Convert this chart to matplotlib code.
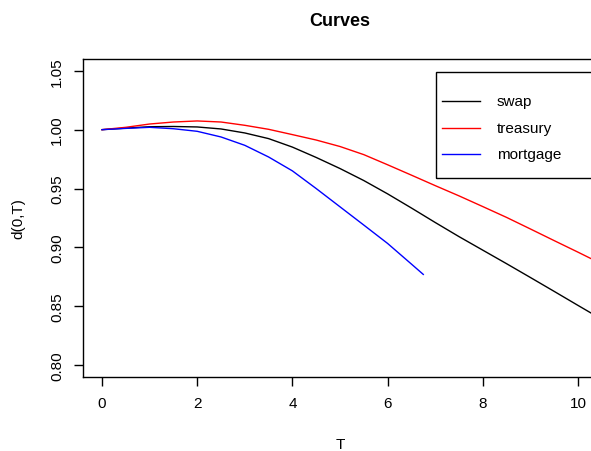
import matplotlib
matplotlib.use("Agg")
import matplotlib.pyplot as plt
from matplotlib.lines import Line2D
from matplotlib.patches import Rectangle

plt.rcParams['font.family'] = ['Liberation Sans', 'DejaVu Sans']

# maturities (years) and discount factors
T = [0.0, 0.5, 1.0, 1.5, 2.0, 2.5, 3.0, 3.5, 4.0, 4.5, 5.0,
     5.5, 6.0, 6.5, 7.0, 7.5, 8.0, 8.5, 9.0, 9.5, 10.0, 10.5]
swap = [1.0000, 1.0013, 1.0025, 1.0027, 1.0023, 1.0006, 0.9972, 0.9924,
        0.9852, 0.9764, 0.9670, 0.9568, 0.9455, 0.9335, 0.9212, 0.9092,
        0.8977, 0.8862, 0.8745, 0.8627, 0.8508, 0.8390]
treasury = [1.0000, 1.0020, 1.0048, 1.0065, 1.0074, 1.0065, 1.0037, 1.0003,
            0.9958, 0.9912, 0.9857, 0.9788, 0.9702, 0.9614, 0.9525, 0.9438,
            0.9347, 0.9255, 0.9157, 0.9058, 0.8960, 0.8860]
T_mort = [0.0, 0.5, 1.0, 1.5, 2.0, 2.5, 3.0, 3.5, 4.0, 4.5, 5.0,
          5.5, 6.0, 6.5, 6.75]
mortgage = [1.0000, 1.0011, 1.0020, 1.0008, 0.9986, 0.9938, 0.9867, 0.9768,
            0.9650, 0.9500, 0.9345, 0.9190, 0.9034, 0.8859, 0.8771]

names = ['swap', 'treasury', 'mortgage']
colors = ['black', 'red', 'blue']

W, H = 591, 452
fig = plt.figure(figsize=(W / 100, H / 100), dpi=100)
# plot box in pixels: left 83, right 597 (runs off the image), top 60, bottom 378
ax = fig.add_axes([83 / W, (H - 378) / H, (597 - 83) / W, (378 - 60) / H])

ax.plot(T, swap, color=colors[0], lw=1)
ax.plot(T, treasury, color=colors[1], lw=1)
ax.plot(T_mort, mortgage, color=colors[2], lw=1)

ax.set_xlim(-0.4, 10.4)
ax.set_ylim(0.79, 1.06)
ax.set_xticks([0, 2, 4, 6, 8, 10])
ax.set_yticks([0.80, 0.85, 0.90, 0.95, 1.00, 1.05])
ax.set_yticklabels(['%.2f' % v for v in ax.get_yticks()], rotation=90, va='center')
ax.tick_params(length=6.5, width=1, labelsize=11, direction='out')
ax.tick_params(axis='x', pad=7)
ax.tick_params(axis='y', pad=7)
for s in ax.spines.values():
    s.set_linewidth(1)
    s.set_color('black')

fig.text(340 / W, 1 - 22 / H, 'Curves', ha='center', va='center',
         fontsize=13, fontweight='bold')
fig.text(340 / W, 1 - 445 / H, 'T', ha='center', va='center', fontsize=11)
fig.text(18 / W, 1 - 219 / H, 'd(0,T)', ha='center', va='center',
         fontsize=11, rotation=90)

# legend box, drawn by hand since it runs past the right edge
fig.patches.append(Rectangle((436 / W, 1 - 179 / H), 200 / W, (179 - 72.7) / H,
                             transform=fig.transFigure, fill=False,
                             edgecolor='black', lw=1))
rows = [101.7, 128.5, 155.3]
for name, c, y in zip(names, colors, rows):
    fig.lines.append(Line2D([442 / W, 480 / W], [1 - y / H, 1 - y / H],
                            transform=fig.transFigure, color=c, lw=1))
    fig.text(497 / W, 1 - y / H, name, ha='left', va='center', fontsize=11)

fig.savefig('out.png', dpi=100)
